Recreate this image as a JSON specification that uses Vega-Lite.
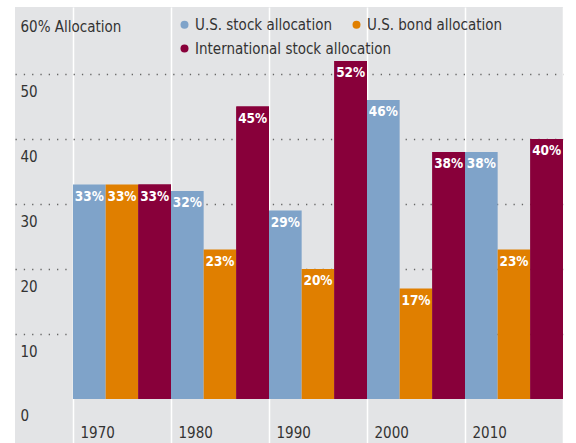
{
  "$schema": "https://vega.github.io/schema/vega-lite/v6.json",
  "width": 548,
  "height": 436,
  "autosize": {"type": "none"},
  "padding": {"left": 15, "top": 7, "right": 13, "bottom": 0},
  "background": "white",
  "config": {
    "view": {"stroke": null, "fill": "#e3e4e6"},
    "font": "DejaVu Sans Condensed, sans-serif"
  },
  "data": {
    "values": [
      {"decade": "1970", "series": "U.S. stock allocation", "value": 33, "label": "33%"},
      {"decade": "1970", "series": "U.S. bond allocation", "value": 33, "label": "33%"},
      {"decade": "1970", "series": "International stock allocation", "value": 33, "label": "33%"},
      {"decade": "1980", "series": "U.S. stock allocation", "value": 32, "label": "32%"},
      {"decade": "1980", "series": "U.S. bond allocation", "value": 23, "label": "23%"},
      {"decade": "1980", "series": "International stock allocation", "value": 45, "label": "45%"},
      {"decade": "1990", "series": "U.S. stock allocation", "value": 29, "label": "29%"},
      {"decade": "1990", "series": "U.S. bond allocation", "value": 20, "label": "20%"},
      {"decade": "1990", "series": "International stock allocation", "value": 52, "label": "52%"},
      {"decade": "2000", "series": "U.S. stock allocation", "value": 46, "label": "46%"},
      {"decade": "2000", "series": "U.S. bond allocation", "value": 17, "label": "17%"},
      {"decade": "2000", "series": "International stock allocation", "value": 38, "label": "38%"},
      {"decade": "2010", "series": "U.S. stock allocation", "value": 38, "label": "38%"},
      {"decade": "2010", "series": "U.S. bond allocation", "value": 23, "label": "23%"},
      {"decade": "2010", "series": "International stock allocation", "value": 40, "label": "40%"}
    ]
  },
  "encoding": {
    "x": {
      "field": "decade",
      "type": "nominal",
      "scale": {"paddingInner": 0, "paddingOuter": 0.2959, "align": 1},
      "axis": {
        "title": null,
        "orient": "bottom",
        "domain": false,
        "ticks": false,
        "tickSize": 0,
        "tickBand": "extent",
        "grid": true,
        "gridColor": "white",
        "gridWidth": 1.5,
        "labelAlign": "left",
        "labelBaseline": "alphabetic",
        "labelOffset": -42,
        "labelPadding": -6,
        "labelFontSize": 15,
        "labelColor": "#333333",
        "labelAngle": 0,
        "zindex": 0
      }
    },
    "xOffset": {
      "field": "series",
      "type": "nominal",
      "sort": ["U.S. stock allocation", "U.S. bond allocation", "International stock allocation"],
      "scale": {"paddingInner": 0, "paddingOuter": 0}
    },
    "y": {
      "field": "value",
      "type": "quantitative",
      "scale": {"domain": [-6.77, 60.31], "nice": false, "zero": false},
      "axis": {
        "title": null,
        "orient": "left",
        "values": [0, 10, 20, 30, 40, 50, 60],
        "domain": false,
        "ticks": false,
        "tickSize": 0,
        "grid": true,
        "gridColor": "#666666",
        "gridWidth": 1.3,
        "gridDash": [1.3, 7],
        "gridOpacity": {"condition": {"test": "datum.value == 60 || datum.value == 0", "value": 0}, "value": 1},
        "labelAlign": "left",
        "labelBaseline": "middle",
        "labelPadding": -5,
        "labelOffset": 17,
        "labelFlush": false,
        "labelFontSize": 15,
        "labelColor": "#333333",
        "labelExpr": "datum.value == 60 ? '60% Allocation' : datum.label",
        "zindex": 0
      }
    }
  },
  "layer": [
    {
      "mark": {"type": "bar"},
      "encoding": {
        "color": {
          "field": "series",
          "type": "nominal",
          "scale": {
            "domain": ["U.S. stock allocation", "U.S. bond allocation", "International stock allocation"],
            "range": ["#7fa3c9", "#e07f00", "#88003a"]
          },
          "legend": {
            "title": null,
            "orient": "none",
            "legendX": 162,
            "legendY": 10,
            "direction": "horizontal",
            "values": ["U.S. stock allocation", "U.S. bond allocation"],
            "symbolType": "circle",
            "symbolSize": 64,
            "symbolStrokeWidth": 0,
            "labelFontSize": 15,
            "labelColor": "#333333",
            "labelOffset": 3,
            "labelLimit": 400,
            "columnPadding": 17
          }
        }
      }
    },
    {
      "transform": [{"filter": "datum.series == 'International stock allocation'"}],
      "mark": {"type": "bar"},
      "encoding": {
        "fill": {
          "field": "series",
          "type": "nominal",
          "scale": {
            "domain": ["International stock allocation"],
            "range": ["#88003a"]
          },
          "legend": {
            "title": null,
            "orient": "none",
            "legendX": 162,
            "legendY": 34,
            "direction": "horizontal",
            "symbolType": "circle",
            "symbolSize": 64,
            "symbolStrokeWidth": 0,
            "labelFontSize": 15,
            "labelColor": "#333333",
            "labelOffset": 3,
            "labelLimit": 400
          }
        }
      }
    },
    {
      "mark": {"type": "text", "color": "white", "fontWeight": "bold", "fontSize": 13.5, "baseline": "middle", "dy": 12},
      "encoding": {
        "text": {"field": "label", "type": "nominal"}
      }
    },
    {
      "data": {"values": [{}]},
      "mark": {"type": "rule", "color": "#555555", "strokeWidth": 1.5},
      "encoding": {"y": {"datum": 0}, "x": null, "xOffset": null}
    }
  ]
}
